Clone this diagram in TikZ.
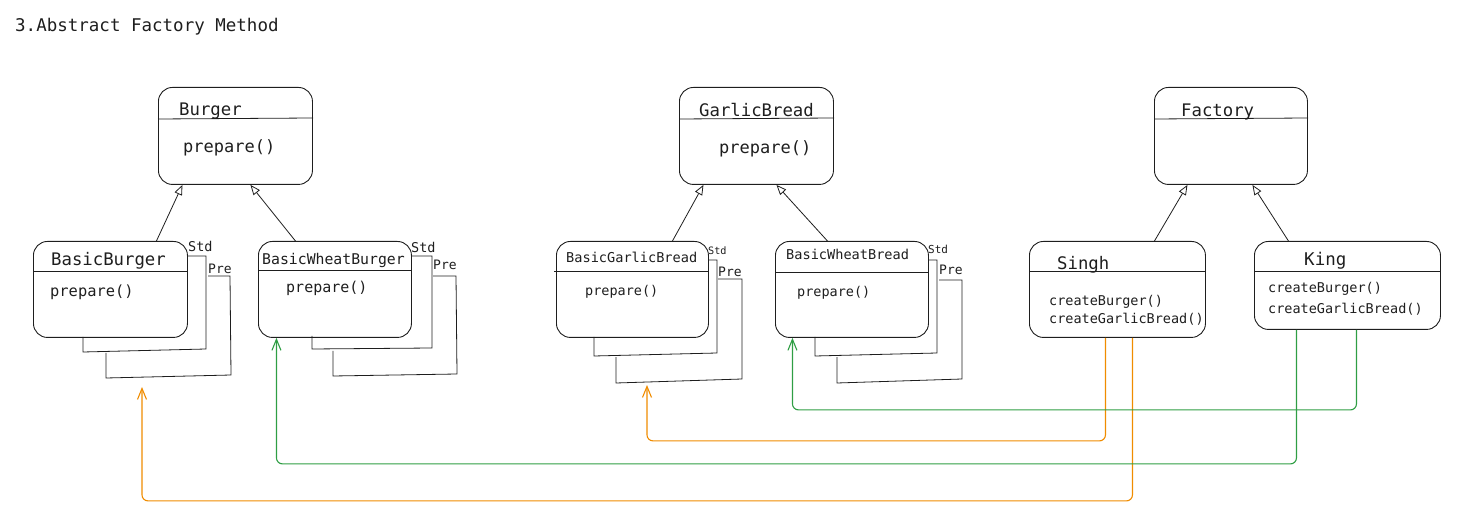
\documentclass[tikz,border=0pt]{standalone}
\usepackage{fontspec}
\setmainfont{DejaVu Sans Mono}
\usepackage{xcolor}
\usetikzlibrary{arrows.meta, calc}
\definecolor{inkgray}{HTML}{1E1E1E}
\definecolor{linkorange}{HTML}{F08C00}
\definecolor{linkgreen}{HTML}{2F9E44}
\tikzset{
  classbox/.style={draw=inkgray, rounded corners=14pt, line width=0.9pt, inner sep=0pt, anchor=north west},
  txt/.style={anchor=base west, inner sep=0pt, text=inkgray, font=\fontsize{#1}{#1}\selectfont},
  inherit/.style={draw=inkgray, line width=0.8pt, -{Triangle[open, length=10pt, width=8pt]}},
  uses/.style={line width=1.1pt, rounded corners=6pt, -{Straight Barb[length=11pt, width=9pt]}},
  stack/.style={draw=inkgray, line width=0.8pt}
}
\begin{document}
\begin{tikzpicture}[x=1pt, y=-1pt]
        \useasboundingbox (0,0) rectangle (1461,526);
        \node[txt=17.5] (title) at (15,32) {3.Abstract Factory Method};

        \node[classbox, minimum width=154pt, minimum height=97pt] (burger) at (158,87) {};
        \draw[stack] (158,119) -- (313,118);
        \node[txt=17.3] (burgername) at (179,116) {Burger};
        \node[txt=17] (burgerop) at (183,153) {prepare()};

        \node[classbox, minimum width=154pt, minimum height=96pt] (bburger) at (33,241) {};
        \draw[stack] (33,271) -- (188,271);
        \node[txt=17.3] (bburgername) at (51,266) {BasicBurger};
        \node[txt=15.4] (bburgerop) at (50,297) {prepare()};
        \node[txt=13.5] (bburgerstd) at (188,252) {Std};
        \draw[stack] (187,256) -- (206,256) -- (206,349) -- (83,352) -- (83,337);
        \node[txt=13] (bburgerpre) at (208,274) {Pre};
        \draw[stack] (208,276) -- (230,276) -- (231,375) -- (106,378) -- (106,353);

        \node[classbox, minimum width=153pt, minimum height=96pt] (bwburger) at (258,241) {};
        \draw[stack] (258,270) -- (412,270);
        \node[txt=14.8] (bwburgername) at (262,265) {BasicWheatBurger};
        \node[txt=15] (bwburgerop) at (286,293) {prepare()};
        \node[txt=13.5] (bwburgerstd) at (411,253) {Std};
        \draw[stack] (411,256) -- (432,256) -- (432,348) -- (312,349) -- (312,336);
        \node[txt=13] (bwburgerpre) at (433,270) {Pre};
        \draw[stack] (433,276) -- (456,276) -- (457,374) -- (333,376) -- (333,351);

        \node[classbox, minimum width=154pt, minimum height=97pt] (gbread) at (679,87) {};
        \draw[stack] (679,119) -- (834,118);
        \node[txt=17.3] (gbreadname) at (699,117) {GarlicBread};
        \node[txt=17] (gbreadop) at (719,154) {prepare()};

        \node[classbox, minimum width=152pt, minimum height=96pt] (bgbread) at (556,241) {};
        \draw[stack] (554,271) -- (709,271);
        \node[txt=13.6] (bgbreadname) at (566,263) {BasicGarlicBread};
        \node[txt=13.5] (bgbreadop) at (585,296) {prepare()};
        \node[txt=10.2] (bgbreadstd) at (708,255) {Std};
        \draw[stack] (708,260) -- (717,260) -- (717,353) -- (594,356) -- (594,337);
        \node[txt=13] (bgbreadpre) at (718,277) {Pre};
        \draw[stack] (718,279) -- (742,279) -- (742,379) -- (616,383) -- (616,357);

        \node[classbox, minimum width=153pt, minimum height=96pt] (bwbread) at (775,241) {};
        \draw[stack] (775,272) -- (929,272);
        \node[txt=13.6] (bwbreadname) at (786,260) {BasicWheatBread};
        \node[txt=13.5] (bwbreadop) at (797,297) {prepare()};
        \node[txt=11] (bwbreadstd) at (928,254) {Std};
        \draw[stack] (928,260) -- (937,260) -- (937,353) -- (815,356) -- (815,337);
        \node[txt=13] (bwbreadpre) at (939,275) {Pre};
        \draw[stack] (939,280) -- (962,280) -- (962,379) -- (837,383) -- (837,357);

        \node[classbox, minimum width=153pt, minimum height=97pt] (factory) at (1154,87) {};
        \draw[stack] (1154,119) -- (1308,118);
        \node[txt=17.3] (factoryname) at (1181,117) {Factory};

        \node[classbox, minimum width=176pt, minimum height=96pt] (singh) at (1029,241) {};
        \draw[stack] (1029,271) -- (1205,271);
        \node[txt=17.3] (singhname) at (1057,270) {Singh};
        \node[txt=13.5] (singhburger) at (1049,306) {createBurger()};
        \node[txt=13.5] (singhbread) at (1049,324) {createGarlicBread()};

        \node[classbox, minimum width=186pt, minimum height=88pt] (king) at (1254,241) {};
        \draw[stack] (1254,271) -- (1440,271);
        \node[txt=17.5] (kingname) at (1304,266) {King};
        \node[txt=13.5] (kingburger) at (1268,293) {createBurger()};
        \node[txt=13.5] (kingbread) at (1268,314) {createGarlicBread()};

        \draw[inherit] ([xshift=46pt]bburger.north) -- ([xshift=-53pt]burger.south);
        \draw[inherit] ([xshift=-39.5pt]bwburger.north) -- ([xshift=15pt]burger.south);
        \draw[inherit] ([xshift=40pt]bgbread.north) -- ([xshift=-53pt]gbread.south);
        \draw[inherit] ([xshift=-24.5pt]bwbread.north) -- ([xshift=20pt]gbread.south);
        \draw[inherit] ([xshift=37pt]singh.north) -- ([xshift=-43.5pt]factory.south);
        \draw[inherit] ([xshift=-59pt]king.north) -- ([xshift=21.5pt]factory.south);

        \coordinate (bgbreadin) at (647,385);
        \coordinate (bburgerin) at (142,387);
        \draw[uses, linkorange] ([xshift=-12pt]singh.south) -- ++(0,103) -| (bgbreadin);
        \draw[uses, linkorange] ([xshift=15pt]singh.south) -- ++(0,163) -| (bburgerin);
        \draw[uses, linkgreen] ([xshift=9pt]king.south) -- ++(0,80) -| ([xshift=-59.5pt]bwbread.south);
        \draw[uses, linkgreen] ([xshift=-51pt]king.south) -- ++(0,134) -| ([xshift=-58.5pt]bwburger.south);
\end{tikzpicture}
\end{document}
